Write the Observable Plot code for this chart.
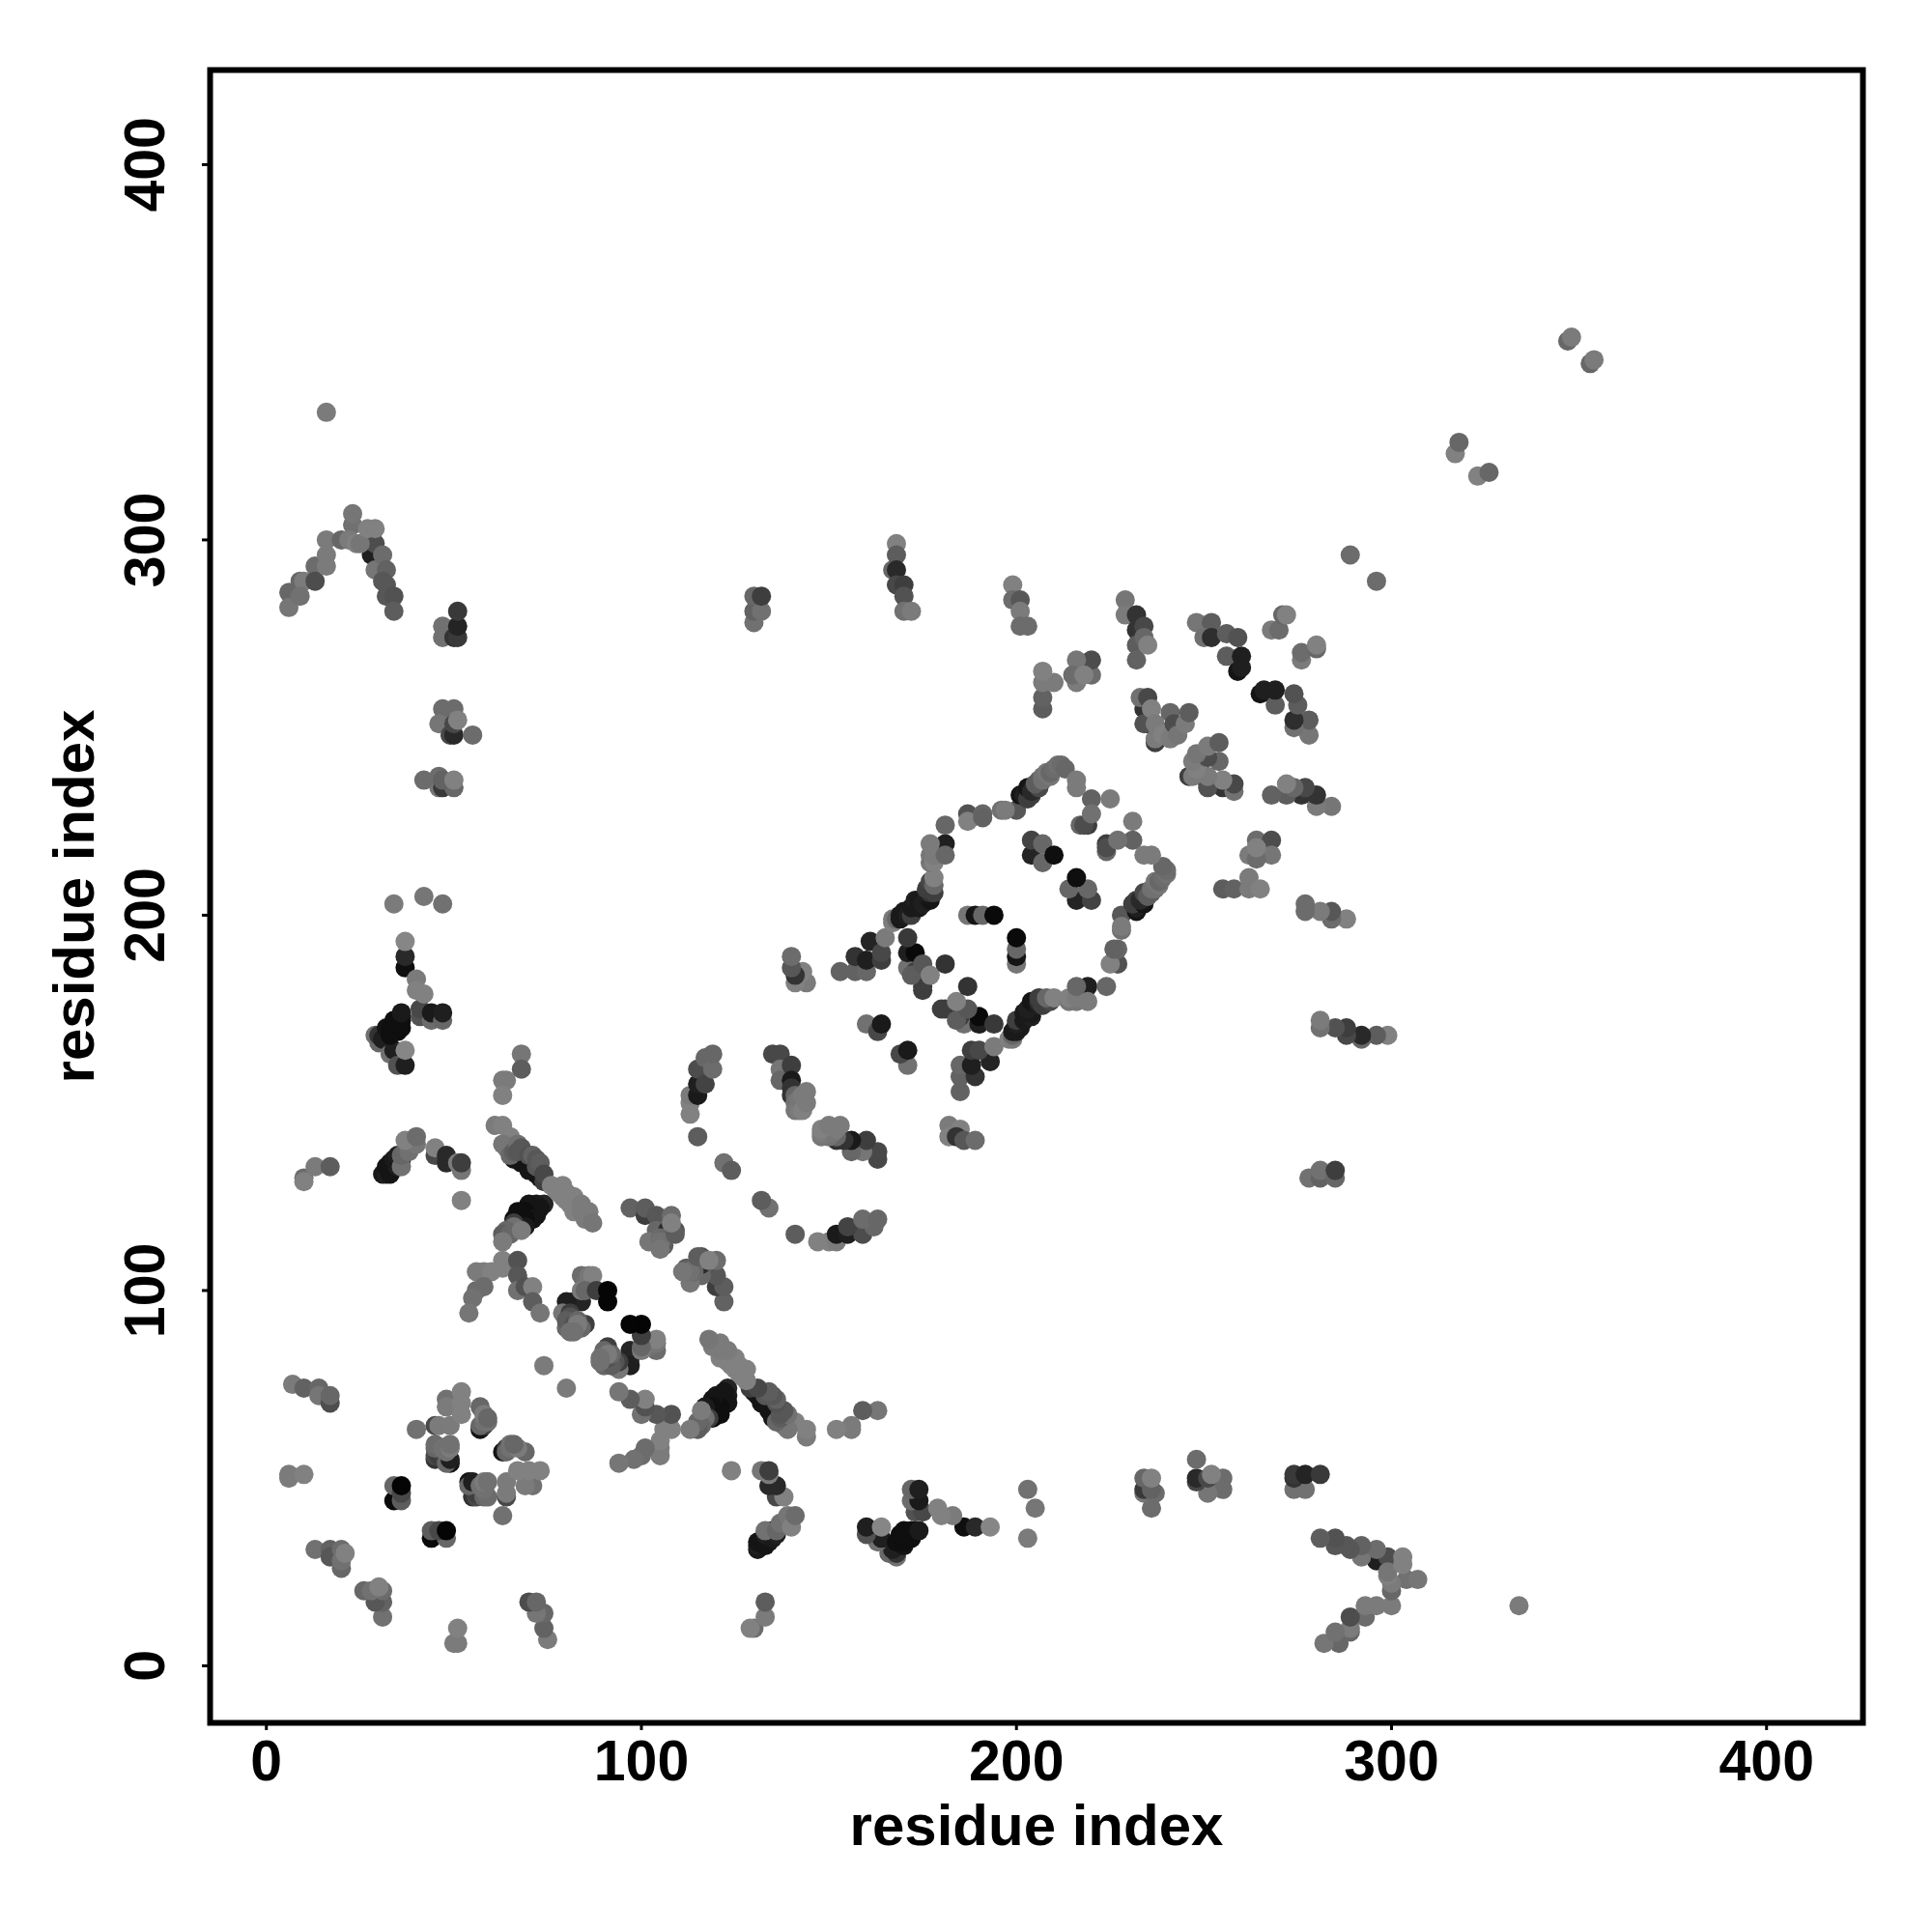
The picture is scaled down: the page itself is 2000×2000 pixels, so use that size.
<!DOCTYPE html>
<html>
<head>
<meta charset="utf-8">
<script src="https://cdn.jsdelivr.net/npm/d3@7"></script>
<script src="https://cdn.jsdelivr.net/npm/@observablehq/plot@0.6"></script>
<style>html,body{margin:0;padding:0;background:#fff}</style>
</head>
<body>
<div id="chart"></div>
<script>
// Contacts as [residue a, residue b, grey level]; the map is symmetric, each is drawn at (a,b) and (b,a).
const nTermArch = [[6,286,100],[6,282,115],[9,289,100],[10,289,120],[9,285,110],[13,293,105],[13,289,75],[16,296,120],[16,293,120],[16,300,120],[20,300,100],[28,296,30],[29,299,75],[23,304,110],[23,307,115],[22,300,120],[24,299,125],[25,299,115],[27,303,125],[29,303,125],[29,292,115],[31,296,105],[32,292,95],[31,289,85],[32,288,85],[32,285,85],[34,285,80],[34,281,90]];
const column51 = [[47,277,110],[47,274,110],[50,274,50],[51,274,55],[51,277,35],[51,281,55]];
const column50 = [[47,255,105],[50,255,105],[46,251,115],[49,248,70],[50,248,40],[50,251,70],[51,252,125],[55,248,105]];
const column47 = [[46,234,115],[47,234,55],[50,234,100],[42,236,105],[46,237,105],[47,236,95],[50,236,125]];
const isolated = [[16,334,120],[347,353,100],[348,354,120],[317,323,125],[318,326,100],[289,296,105],[52,124,125],[74,80,120]];
const group130 = [[130,278,110],[130,281,95],[132,281,110],[130,285,100],[132,285,60]];
const group168 = [[167,292,100],[168,299,125],[168,296,90],[168,292,40],[168,288,70],[170,288,60],[170,285,80],[170,281,110],[172,281,120]];
const group199 = [[199,288,125],[199,284,105],[201,284,85],[201,281,120],[201,277,105],[203,277,105]];
const group207 = [[207,255,90],[207,258,95],[207,262,120],[210,262,120],[207,265,125]];
const group216 = [[220,264,105],[220,268,75],[216,262,120],[216,268,115],[215,264,105],[218,264,125]];
const group232 = [[229,284,115],[229,280,120],[232,280,50],[232,276,50],[234,277,70],[232,272,90],[232,268,95],[234,274,100],[235,272,125]];
const group252 = [[248,278,115],[252,278,90],[250,274,110],[252,274,45],[256,275,90],[259,274,80],[256,269,90],[259,265,20],[260,266,30],[260,269,30]];
const group270 = [[268,276,120],[270,276,105],[271,280,100],[272,280,125]];
const group235 = [[234,255,50],[233,258,110],[235,258,70],[235,251,30],[234,251,80],[237,246,60],[237,247,120],[236,255,125],[237,251,120],[239,248,125],[241,247,120],[241,254,100],[242,251,75],[243,248,115],[245,251,120],[246,254,90]];
const blockEdge = [[153,185,95],[157,185,95],[160,185,100],[157,189,50],[160,188,30],[161,193,35],[164,188,60],[164,190,70],[165,194,120],[167,198,125],[167,199,120],[168,199,100],[169,199,25],[169,200,25],[170,201,25],[171,200,30],[172,200,60],[172,202,25],[173,204,30],[174,202,25],[174,204,25],[175,203,30],[177,204,20],[176,206,30],[177,206,50],[176,207,60],[178,206,60],[177,209,70],[178,208,100],[178,210,125],[177,214,115],[177,216,115],[178,214,125],[178,216,120],[181,219,30],[181,216,100],[181,224,100],[177,219,120]];
const blockInner = [[171,186,110],[173,185,60],[175,181,55],[175,180,60],[175,186,70],[171,190,30],[173,190,10],[171,194,55],[172,184,90],[175,187,85],[177,184,125],[181,187,50],[187,200,115],[189,200,20],[191,200,100],[194,200,10],[204,216,35],[204,220,65],[207,214,100],[207,219,100],[210,216,15]];
const blockArm = [[188,226,110],[187,227,80],[187,225,125],[191,227,100],[191,226,95],[196,228,110],[200,228,85],[197,228,120],[201,232,20],[202,232,30],[203,231,60],[204,232,60],[203,234,20],[204,233,40],[206,234,70],[205,235,90],[206,236,90],[207,236,110],[207,237,110],[209,237,115],[208,238,115],[209,238,100],[210,239,105],[211,240,110],[212,240,105]];
const blockTop = [[213,239,100],[216,236,120],[216,234,120],[220,231,95],[225,231,120],[219,224,60],[217,224,100],[218,224,75],[220,227,110]];
const group160 = [[160,171,110],[163,169,70],[164,171,25]];
const arc135 = [[135,163,70],[137,163,70],[137,159,115],[137,156,100],[140,160,60],[140,156,25],[140,154,50],[140,152,50],[141,152,100],[141,150,110],[141,148,115],[142,148,120],[143,150,115],[142,151,115],[143,152,120],[143,148,125],[144,150,120],[144,153,120]];
const arc115 = [[113,147,125],[113,150,125],[113,152,120],[115,152,25],[115,155,30],[115,159,75],[117,155,65],[117,162,100],[119,159,105],[119,163,100],[115,141,90],[122,134,110],[124,132,90]];
const group141 = [[144,182,120],[143,185,125],[141,182,125],[141,184,50],[140,186,85],[140,189,105]];
const bandDark = [[67,136,15],[68,134,20],[68,135,15],[66,135,20],[69,134,20],[70,133,20],[70,132,20],[72,131,20],[73,130,20],[74,123,35],[72,123,25],[73,122,20],[70,123,20],[71,121,20],[72,120,20],[70,121,20],[69,121,15],[68,121,15],[67,121,15],[71,119,20],[67,119,15],[69,119,15],[66,119,15],[69,117,25]];
const bandCross = [[66,118,60],[66,117,110],[64,116,100],[63,115,90],[65,115,100],[68,116,120],[63,113,120]];
const bandLight = [[61,144,120],[63,144,125],[65,141,125],[64,138,110],[63,139,115],[65,136,100],[66,137,90],[67,139,110],[67,137,85],[68,138,85],[70,136,80],[71,136,95],[72,135,85],[72,133,85],[73,134,90],[74,129,60],[74,131,70],[76,128,125],[77,127,125],[78,126,125],[79,128,125],[79,125,125],[80,124,125],[80,126,125],[81,123,125],[81,124,125],[82,121,125],[82,125,125],[83,121,125],[83,122,125],[84,121,120],[84,123,120],[85,119,120],[85,120,120],[86,119,120],[86,121,120],[87,118,115]];
const lowRow = [[7,75,120],[10,74,95],[14,74,100],[14,72,115],[17,70,75],[17,72,100],[6,50,120],[6,51,120],[10,51,125]];
const group34 = [[34,44,10],[34,48,100],[36,44,90],[36,46,70],[36,48,5]];
const group13 = [[13,31,110],[17,31,95],[17,29,85],[20,31,105],[20,26,100],[20,28,110],[21,30,125]];
const ring = [[45,55,50],[45,56,70],[46,56,60],[48,56,60],[45,58,100],[46,58,100],[45,59,105],[49,54,20],[48,54,100],[49,55,30],[48,57,110],[47,58,110],[49,58,120],[49,59,110],[40,63,110],[45,64,70],[46,64,120],[49,64,120],[48,71,110],[48,69,120],[52,73,125],[52,70,125],[52,67,125],[57,63,20],[58,64,60],[57,64,100],[57,69,100],[58,65,110],[59,65,110],[58,67,120],[59,66,100]];
const arc10 = [[10,130,105],[10,129,125],[13,133,120],[17,133,90]];
const arc31 = [[31,131,25],[32,131,30],[33,131,20],[32,133,20],[33,134,20],[34,133,20],[35,133,30],[34,135,25],[36,135,25],[35,136,30],[36,133,110],[36,136,100],[37,137,100],[38,137,110],[40,139,115],[37,140,125],[40,141,105],[45,136,70],[45,138,125],[48,134,40],[48,136,40],[52,132,115],[51,134,120],[52,134,60]];
const knot34 = [[29,168,110],[30,166,100],[30,168,50],[31,167,30],[33,163,110],[34,164,30],[32,170,20],[33,168,15],[33,170,15],[34,170,15],[34,172,15],[35,169,15],[36,170,15],[35,171,15],[36,172,15],[36,173,15],[36,174,25],[35,160,80],[37,160,30],[37,164,130]];
const top200 = [[34,203,120],[42,205,115],[47,203,110],[37,186,15],[37,189,40],[37,193,130]];
const arm40 = [[40,183,120],[40,180,125],[41,173,80],[41,175,70],[42,179,125],[44,172,105],[44,174,25],[47,172,100],[47,174,30]];
const group63 = [[68,163,115],[68,159,90],[64,156,120],[63,156,120],[63,152,125]];
const group100 = [[97,122,95],[101,120,60],[101,122,90],[104,120,85],[108,120,105],[104,116,100],[107,116,40],[109,116,80],[102,113,115],[106,112,90],[105,114,105],[106,114,100],[105,113,110],[105,111,115],[109,115,90],[108,118,125]];
const vee = [[63,108,125],[63,106,125],[67,108,80],[67,104,85],[67,100,110],[69,101,80],[71,101,125],[71,97,90],[73,94,115],[58,105,120],[56,105,120],[60,105,125],[58,101,105],[56,100,105],[55,98,110],[54,94,115]];
const inner = [[82,97,35],[84,97,35],[80,97,30],[79,94,115],[81,94,60],[81,93,80],[80,90,100],[85,91,60],[80,92,90],[82,91,80],[84,90,100],[83,92,100],[83,91,120],[81,89,110],[82,89,110],[84,104,105],[85,102,110],[86,102,120],[86,104,115],[87,104,125],[84,100,120],[85,100,100],[88,100,60],[91,100,5],[91,97,5]];

const contacts = [nTermArch,column51,column50,column47,isolated,group130,group168,group199,group207,group216,group232,group252,group270,group235,blockEdge,blockInner,blockArm,blockTop,group160,arc135,arc115,group141,bandDark,bandCross,bandLight,lowRow,group34,group13,ring,arc10,arc31,knot34,top200,arm40,group63,group100,vee,inner].flat();
const points = contacts.flatMap(([a,b,g]) => [{x:a,y:b,g},{x:b,y:a,g}]);

const axisTicks = [0,100,200,300,400];
const axisLabel = "residue index";
const font = {fontFamily:"Liberation Sans",fontWeight:"bold"};

const chart = Plot.plot({
  width:2000,height:2000,
  marginLeft:217,marginRight:72,marginTop:72,marginBottom:217,
  x:{domain:[-15,425.7]},
  y:{domain:[-15.2,425.2]},
  color:{type:"linear",domain:[0,248],range:["#000","#fff"]},
  style:{background:"#fff",color:"#000"},
  marks:[
    Plot.dot(points,{x:"x",y:"y",fill:"g",r:10}),
    Plot.frame({stroke:"#000",strokeWidth:6}),
    Plot.axisX({ticks:axisTicks,tickSize:8,tickPadding:10,strokeWidth:3,fontSize:59,...font,tickFormat:d=>String(d),label:null}),
    Plot.axisY({ticks:axisTicks,tickSize:8,tickPadding:40,strokeWidth:3,fontSize:59,...font,tickRotate:-90,tickFormat:d=>String(d),label:null}),
    Plot.text([axisLabel],{frameAnchor:"bottom",dy:126,fontSize:60,...font,lineAnchor:"bottom"}),
    Plot.text([axisLabel],{frameAnchor:"left",dx:-121,rotate:-90,textAnchor:"middle",fontSize:60,...font,lineAnchor:"bottom"})
  ]
});
document.getElementById("chart").appendChild(chart);
</script>
</body>
</html>
